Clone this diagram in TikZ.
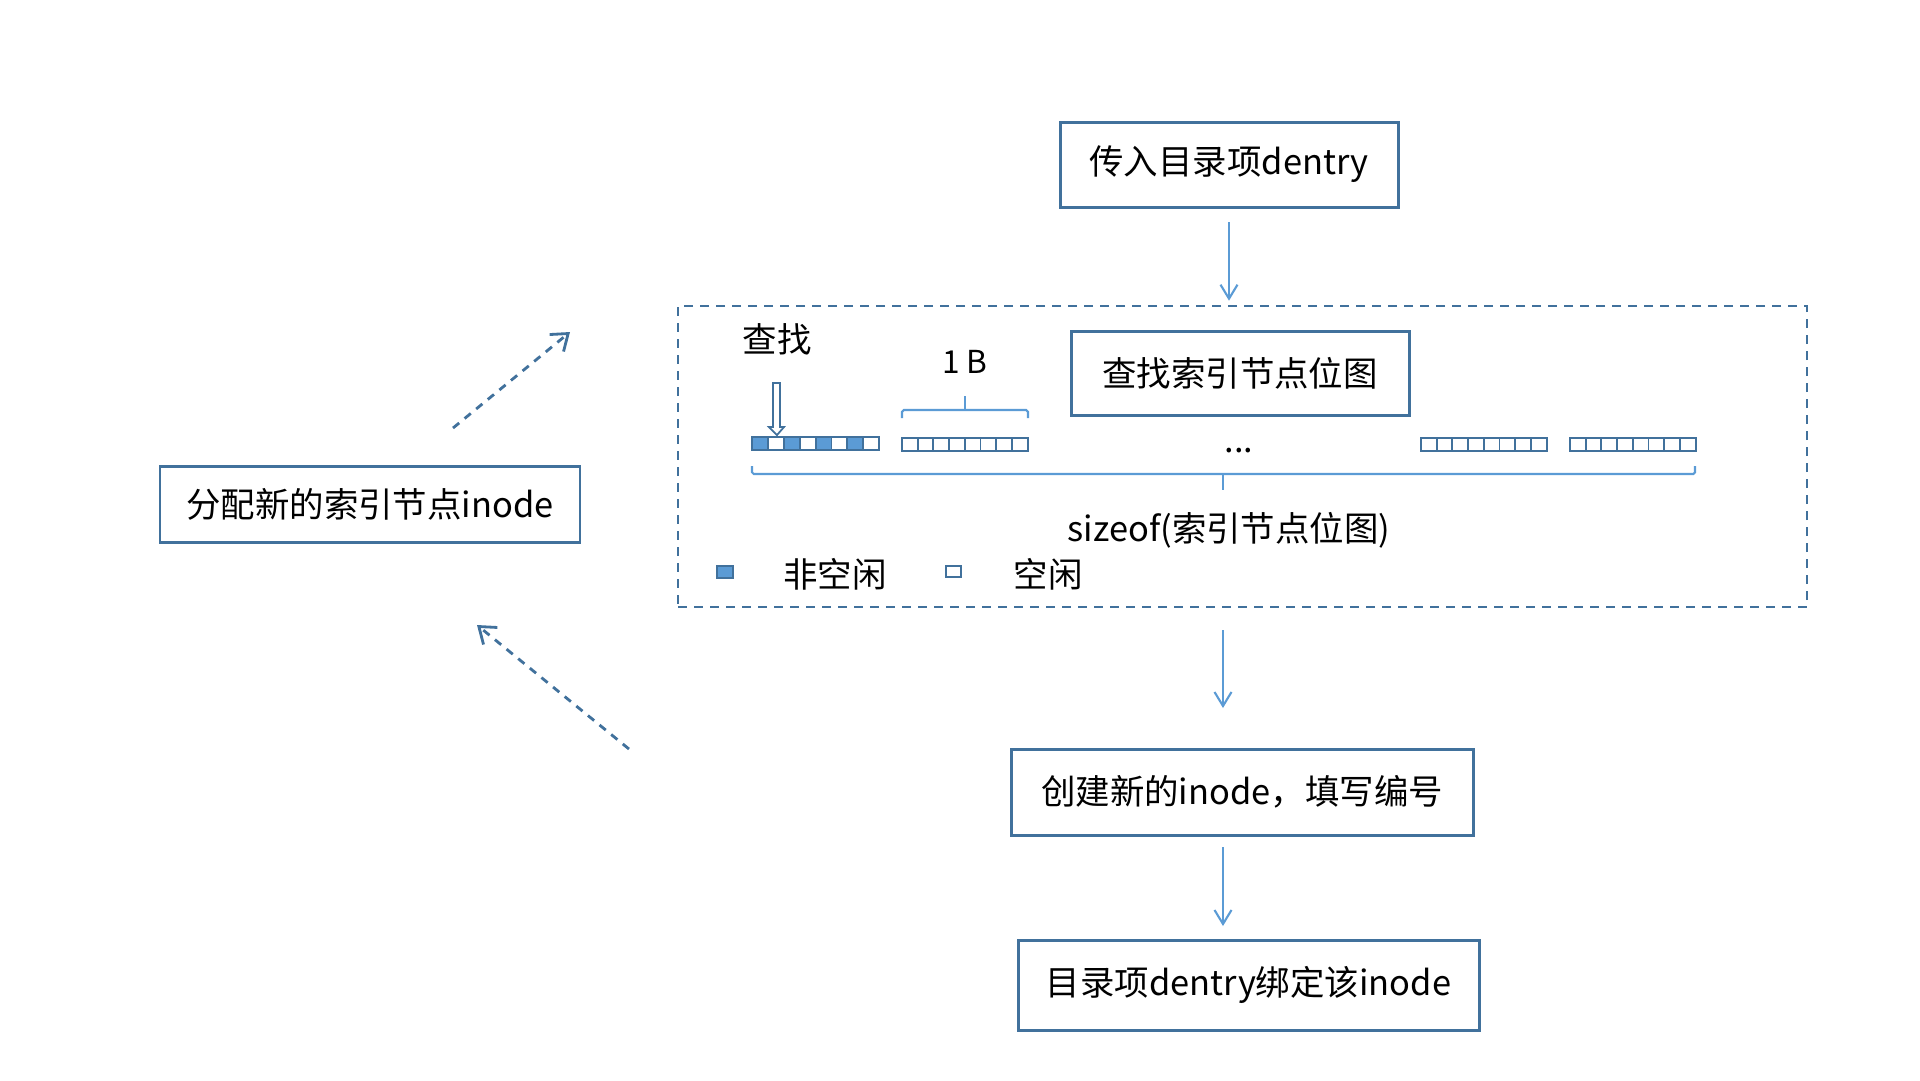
\documentclass[tikz,border=0pt]{standalone}
\usepackage{fontspec}
\setmainfont{Noto Sans CJK SC}
\usetikzlibrary{arrows.meta}

\definecolor{edge}{RGB}{65,113,156}
\definecolor{used}{RGB}{91,155,213}

\begin{document}
\begin{tikzpicture}[x=0.1mm, y=-0.1mm,
  box/.style={draw=edge, line width=0.85pt, inner sep=0pt, outer sep=0pt,
    font=\fontsize{9.8}{12}\selectfont},
  txt/.style={inner sep=0pt, font=\fontsize{9.8}{12}\selectfont},
  flow/.style={draw=used, line width=0.6pt, -{Straight Barb[length=1.4mm,width=1.7mm]}},
  back/.style={draw=edge, line width=0.8pt, dash pattern=on 0.8mm off 0.7mm,
    -{Straight Barb[length=1.5mm,width=2.2mm]}},
  cell/.style={draw=edge, line width=0.55pt}]
  \useasboundingbox (0,0) rectangle (1920,1080);

  % Steps on the right
  \node[box, minimum width=33.8mm, minimum height=8.5mm] (in) at (1229,164.5) {传入目录项dentry};
  \node[draw=edge, line width=0.75pt, dash pattern=on 0.9mm off 0.7mm, inner sep=0pt,
    minimum width=112.9mm, minimum height=30.1mm] (region) at (1242.5,456.5) {};
  \node[box, minimum width=33.8mm, minimum height=8.4mm] (bmap) at (1240,373) {查找索引节点位图};
  \node[box, minimum width=46.2mm, minimum height=8.6mm] (create) at (1242,792) {创建新的inode，填写编号};
  \node[box, minimum width=46.1mm, minimum height=9.0mm] (bind) at (1248.5,985) {目录项dentry绑定该inode};
  \node[box, minimum width=42.0mm, minimum height=7.6mm] (alloc) at (370,504) {分配新的索引节点inode};

  % Arrows between the steps
  \coordinate (axis) at (1223,0);
  \draw[flow, shorten <=1.5mm, shorten >=0.4mm] (in.south) -- (in.south |- region.north);
  \draw[flow, shorten <=2.2mm, shorten >=4.1mm] (region.south -| axis) -- (create.north -| axis);
  \draw[flow, shorten <=1.2mm, shorten >=1.4mm] (create.south -| axis) -- (bind.north -| axis);

  % Dashed arrows round the allocation box
  \coordinate (up0) at (453,428);
  \coordinate (up1) at (570,332);
  \coordinate (dn0) at (629,749);
  \coordinate (dn1) at (477,625);
  \draw[back] (up0) -- (up1);
  \draw[back] (dn0) -- (dn1);

  % Bitmap: first byte half used, the rest free
  \foreach \i/\f in {0/used,1/white,2/used,3/white,4/used,5/white,6/used,7/white}
    \draw[cell, fill=\f] ({752+15.9*\i},437) rectangle ++(15.9,13);
  \foreach \x in {902,1421,1570}
    \foreach \i in {0,...,7}
      \draw[cell] ({\x+15.7*\i},438) rectangle ++(15.7,13);

  % Hollow arrow over the first bit
  \draw[edge, line width=0.5pt] (773,383) -- (780,383) -- (780,427) -- (784,427)
    -- (777,435) -- (769,427) -- (773,427) -- cycle;
  \node[txt] (seek) at (777,339) {查找};

  % Braces
  \draw[used, line width=0.6pt, rounded corners=0.5pt] (902,418) -- (902,410) -- (1028,410) -- (1028,418);
  \draw[used, line width=0.6pt] (965,410) -- (965,396);
  \node[txt, font=\fontsize{9}{11}\selectfont] (byte) at (965,362) {1 B};
  \draw[used, line width=0.6pt, rounded corners=0.5pt] (752,466) -- (752,474) -- (1695,474) -- (1695,466);
  \draw[used, line width=0.6pt] (1223,474) -- (1223,490);
  \node[txt] (dots) at (1239,451) {...};
  \node[txt] (size) at (1229,530) {sizeof(索引节点位图)};

  % Legend
  \node[cell, fill=used, inner sep=0pt, minimum width=1.6mm, minimum height=1.2mm] (usedkey) at (725,572) {};
  \node[txt] (usedtxt) at (835,574) {非空闲};
  \node[cell, inner sep=0pt, minimum width=1.5mm, minimum height=1.1mm] (freekey) at (953.5,571.5) {};
  \node[txt] (freetxt) at (1048,574) {空闲};
\end{tikzpicture}
\end{document}
